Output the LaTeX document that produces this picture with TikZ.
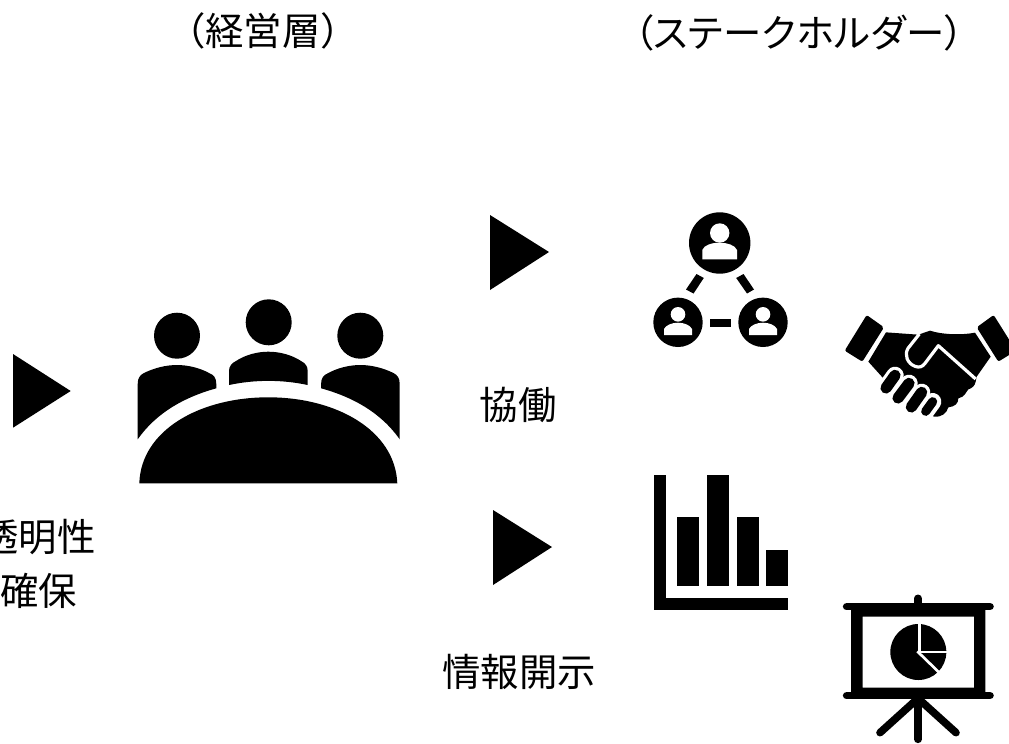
\documentclass[tikz,border=0pt]{standalone}
\usepackage{fontspec}
\newfontfamily\jpfont{Noto Sans CJK JP}
\newfontfamily\jppalt[RawFeature=+palt,LetterSpace=1.2]{Noto Sans CJK JP}
\tikzset{
  jp/.style={inner sep=0pt,font=\jpfont\fontsize{28.8}{34}\selectfont,text=black},
  jpp/.style={inner sep=0pt,font=\jppalt\fontsize{28.8}{34}\selectfont,text=black},
  finger/.style={line cap=round,draw=black,line width=8.4pt},
  fingergap/.style={line cap=round,draw=white,line width=13pt},
  stand/.style={line width=5.7pt,line cap=round}
}
\begin{document}
\begin{tikzpicture}[x=0.75pt,y=-0.75pt]
\useasboundingbox (0,0) rectangle (1009,743);
\clip (0,0) rectangle (1009,743);
% texts
\node[jp] (keiei) at (263,31) {（経営層）};
\node[jpp] (stake) at (799,33) {（ステークホルダー）};
\node[jp] (kyodo) at (518,405) {協働};
\node[jp] (joho) at (519,672) {情報開示};
\node[jp] (tomei) at (38,537) {透明性};
\node[jp] (kakuho) at (39,591) {確保};
% triangles
\fill (13,354) -- (13,427.7) -- (70.7,391) -- cycle;
\fill (490,215) -- (490,290) -- (549,252) -- cycle;
\fill (493,510) -- (493,585) -- (552,547) -- cycle;
% meeting icon
\fill (177,335.7) circle[radius=23*0.75pt];
\fill (268.7,322.3) circle[radius=23*0.75pt];
\fill (360.3,335.7) circle[radius=23*0.75pt];
\fill (229,385) -- (229,371) .. controls (229,366) and (232,363) .. (236,361)
  .. controls (245,355) and (257,351.7) .. (268.3,351.7)
  .. controls (280,351.7) and (292,355) .. (301,361)
  .. controls (305,363) and (307.7,366) .. (307.7,371) -- (307.7,385)
  .. controls (282,379.5) and (255,379.5) .. (229,385) -- cycle;
\fill (137.7,439.3) -- (137.7,384) .. controls (137.7,378) and (140,375) .. (144,373)
  .. controls (154,368) and (166,365) .. (177,365)
  .. controls (188,365) and (200,368) .. (209,373)
  .. controls (214,375) and (216.3,378) .. (216.3,384) -- (216.3,388.3)
  .. controls (185,397) and (157,412) .. (137.7,439.3) -- cycle;
\fill (399.7,439.3) -- (399.7,384) .. controls (399.7,378) and (397.4,375) .. (393.4,373)
  .. controls (383.4,368) and (371.4,365) .. (360.4,365)
  .. controls (349.4,365) and (337.4,368) .. (328.4,373)
  .. controls (323.4,375) and (321.1,378) .. (321.1,384) -- (321.1,388.3)
  .. controls (352.4,397) and (380.4,412) .. (399.7,439.3) -- cycle;
\fill (139.3,483.3) .. controls (141,430) and (200,397.3) .. (268.3,397.3)
  .. controls (336,397.3) and (395,430) .. (397.3,483.3) -- cycle;
% network icon
\fill (719.7,243) circle[radius=30.7*0.75pt];
\fill (678,322.3) circle[radius=24.7*0.75pt];
\fill (763,322.3) circle[radius=24.7*0.75pt];
\fill[white] (719.7,233) circle[radius=9.7*0.75pt];
\fill[white] (678,314.3) circle[radius=7.3*0.75pt];
\fill[white] (763,314.3) circle[radius=7.3*0.75pt];
\fill[white] (702.3,259.3) -- (702.3,250) .. controls (704,245) and (712,242.7) .. (719.7,242.7)
  .. controls (727,242.7) and (735,245) .. (737,250) -- (737,259.3) -- cycle;
\fill[white] (664,335) -- (664,329) .. controls (666,325) and (672,322.7) .. (678,322.7)
  .. controls (684,322.7) and (690,325) .. (692,329) -- (692,335) -- cycle;
\fill[white] (749,335) -- (749,329) .. controls (751,325) and (757,322.7) .. (763,322.7)
  .. controls (769,322.7) and (775,325) .. (777,329) -- (777,335) -- cycle;
\fill (710.3,318.7) rectangle (731,327.3);
\fill (696.5,274) -- (703.8,278) -- (693.5,293.5) -- (686,289.5) -- cycle;
\fill (743.5,274) -- (736.2,278) -- (747,293.5) -- (754,289.5) -- cycle;
% handshake icon
\begin{scope}[shift={(830,300)},x=0.25pt,y=-0.25pt]
  \fill[rounded corners=1.5pt] (110,45) -- (162,82) -- (97,185) -- (44,152) -- cycle;
  \fill[rounded corners=1.5pt] (491,45) -- (440,82) -- (505,185) -- (558,152) -- cycle;
  \fill (168,97) -- (265,104) -- (300,92) .. controls (340,105) and (400,105) .. (435,98)
    -- (482,170) -- (440,230) -- (437,245) .. controls (435,258) and (425,265) .. (415,268)
    .. controls (405,280) and (405,290) .. (385,295) .. controls (385,310) and (375,320) .. (355,322)
    .. controls (350,340) and (335,352) .. (312,350) -- (200,280) -- (160,235) -- (115,185) -- cycle;
  \draw[white,line width=2.4pt,line join=round] (268,102) -- (234,145)
    .. controls (222,165) and (232,190) .. (255,199) .. controls (268,204) and (278,200) .. (285,190)
    -- (325,137) -- (437,237);
  \draw[fingergap] (195,226) -- (168,264);
  \draw[fingergap] (237,250) -- (204,294);
  \draw[fingergap] (275,277) -- (244,321);
  \draw[fingergap] (308,305) -- (287,334);
  \draw[finger] (195,226) -- (168,264);
  \draw[finger] (237,250) -- (204,294);
  \draw[finger] (275,277) -- (244,321);
  \draw[finger,line width=6.8pt] (308,305) -- (287,334);
\end{scope}
% bar chart icon
\begin{scope}[shift={(640,465)},x=0.25pt,y=-0.25pt]
  \fill (41,31) rectangle (77,435);
  \fill (41,399) rectangle (445,435);
  \fill (112,155) rectangle (178,363);
  \fill (201,31) rectangle (267,363);
  \fill (290,155) rectangle (356,363);
  \fill (379,256) rectangle (445,363);
\end{scope}
% presentation icon
\begin{scope}[shift={(830,590)},x=0.25pt,y=-0.25pt]
  \draw[stand] (50,50) -- (480,50);
  \draw[stand] (50,317) -- (480,317);
  \draw[stand] (264,25) -- (264,50);
  \draw[stand] (264,317) -- (264,448);
  \draw[stand] (264,325) -- (150,428);
  \draw[stand] (264,325) -- (378,428);
  \fill[even odd rule] (63,50) rectangle (466,317) (98,80) rectangle (432,293);
  \fill (265,186) circle[radius=21pt];
  \draw[white,line width=2pt] (268,95) -- (268,186) -- (355,186);
  \draw[white,line width=2pt] (262,184) -- (330,250);
\end{scope}
\end{tikzpicture}
\end{document}
